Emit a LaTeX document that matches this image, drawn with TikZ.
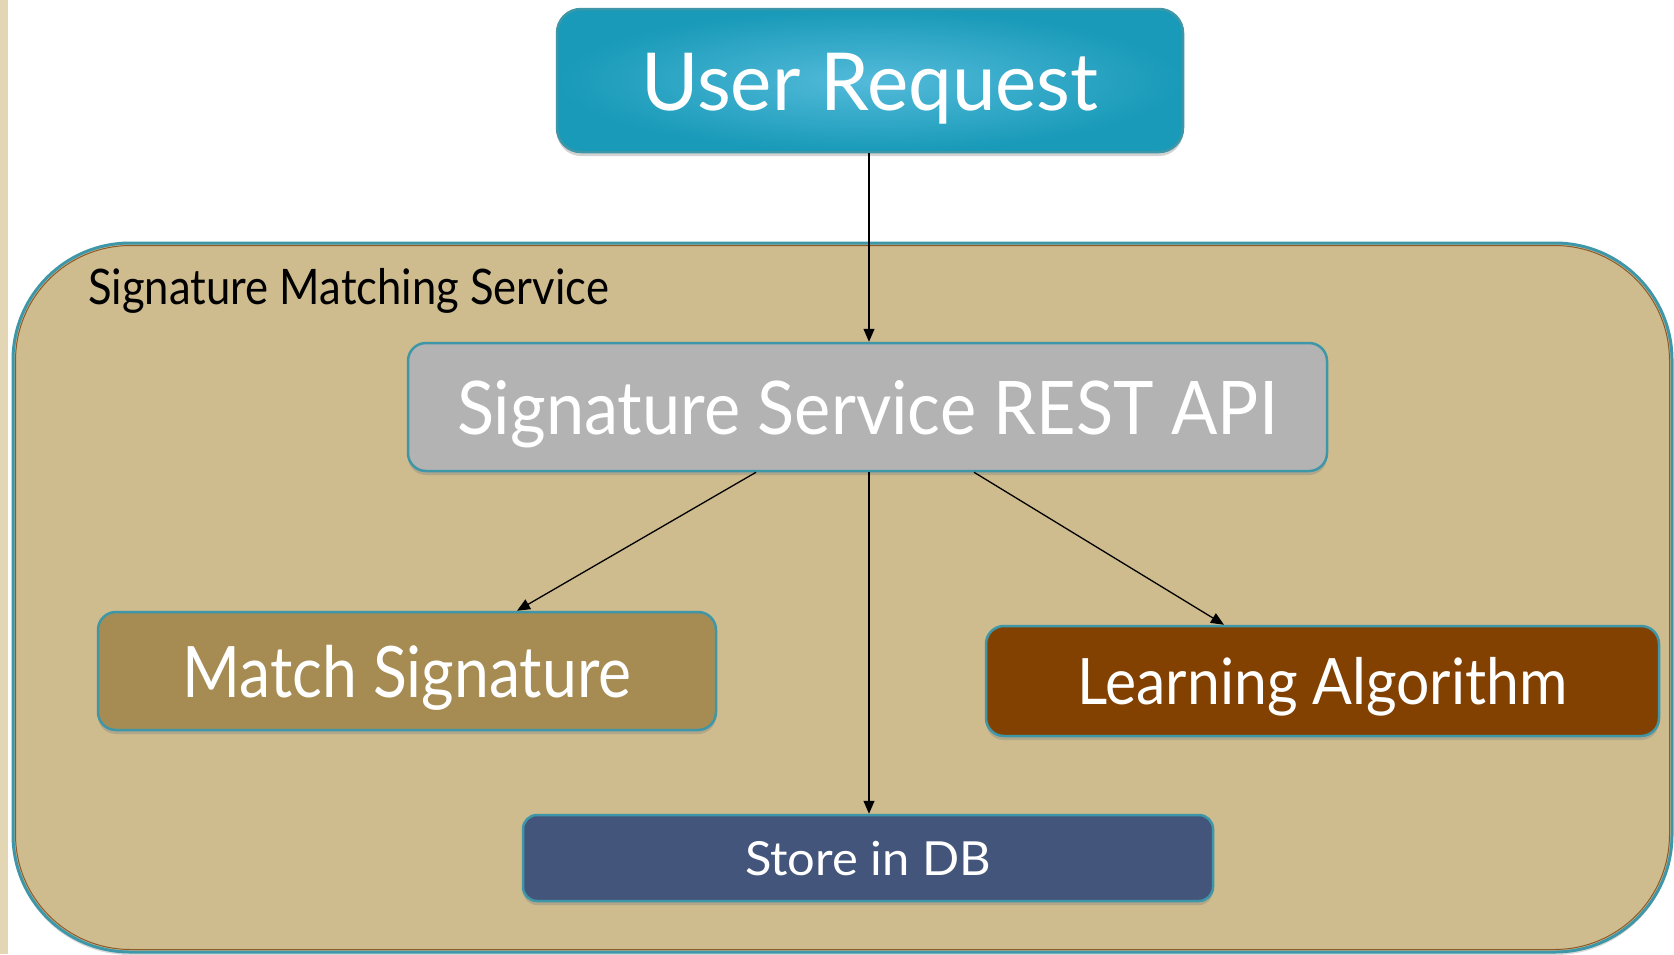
\documentclass[tikz,border=0pt]{standalone}
\usepackage{fontspec}
\setmainfont{Lato}
\usetikzlibrary{arrows.meta,shadows}
\definecolor{tealb}{RGB}{62,151,168}
\definecolor{contfill}{RGB}{206,187,142}
\definecolor{contbrown}{RGB}{140,90,40}
\definecolor{urdark}{RGB}{24,154,184}
\definecolor{urlight}{RGB}{84,186,218}
\definecolor{restfill}{RGB}{179,179,179}
\definecolor{matchfill}{RGB}{166,140,82}
\definecolor{learnfill}{RGB}{130,65,0}
\definecolor{storefill}{RGB}{67,85,123}
\definecolor{stripfill}{RGB}{226,214,180}
\newcommand{\sqz}[2]{\scalebox{#1}[1]{#2}}
\tikzset{
  box/.style={draw=tealb, line width=2.5pt, rounded corners=18pt, text=white,
    align=center, inner sep=0pt, text depth=0pt,
    drop shadow={opacity=0.35, shadow xshift=0pt, shadow yshift=-4pt}},
  conn/.style={line width=1.3pt, -{Triangle[length=13pt,width=11pt]}},
}
\begin{document}
\begin{tikzpicture}[x=1pt,y=-1pt]
\useasboundingbox (0,0) rectangle (1674,954);
\fill[white] (0,0) rectangle (1674,954);
% left strip
\fill[stripfill] (0,0) rectangle (8,954);
% container
\fill[contfill, drop shadow={opacity=0.3, shadow xshift=0pt, shadow yshift=-3pt}]
  [rounded corners=117pt] (13,243) rectangle (1672,952);
\draw[tealb, line width=3pt, rounded corners=117pt] (13,243) rectangle (1672,952);
\draw[contbrown, line width=1pt, rounded corners=115pt] (15.5,245.5) rectangle (1669.5,949.5);
\node[anchor=base west, inner sep=0pt, font=\fontsize{49}{56}\selectfont] (lbl) at (88,304) {\sqz{0.89}{Signature Matching Service}};
% boxes
\node[box, inner color=urlight, outer color=urdark, rounded corners=24pt, text height=59pt,
  minimum width=626pt, minimum height=143pt, font=\fontsize{80}{90}\selectfont] (ur) at (870,80.5) {\sqz{0.977}{User Request}};
\node[box, fill=restfill, minimum width=919pt, minimum height=128pt, text height=55pt,
  font=\fontsize{74}{84}\selectfont] (rest) at (867.5,407) {\sqz{0.926}{Signature Service REST API}};
\node[box, fill=matchfill, minimum width=618pt, minimum height=118pt, text height=52pt,
  font=\fontsize{71}{80}\selectfont] (match) at (407,671) {\sqz{0.88}{Match Signature}};
\node[box, fill=learnfill, minimum width=673pt, minimum height=110pt, text height=47pt,
  font=\fontsize{64}{72}\selectfont] (learn) at (1322.5,681) {\sqz{0.92}{Learning Algorithm}};
\node[box, fill=storefill, minimum width=690pt, minimum height=86pt, rounded corners=14pt, text height=35pt,
  font=\fontsize{47}{54}\selectfont] (store) at (868,858) {\sqz{1.04}{Store in DB}};
% connectors
\draw[conn] ([xshift=-1pt]ur.south) -- ([xshift=1.5pt]rest.north);
\draw[conn] ([xshift=-111.5pt]rest.south) -- ([xshift=110pt]match.north);
\draw[conn] ([xshift=1.5pt]rest.south) -- ([xshift=1pt]store.north);
\draw[conn] ([xshift=106.5pt]rest.south) -- ([xshift=-98.5pt]learn.north);
\end{tikzpicture}
\end{document}
